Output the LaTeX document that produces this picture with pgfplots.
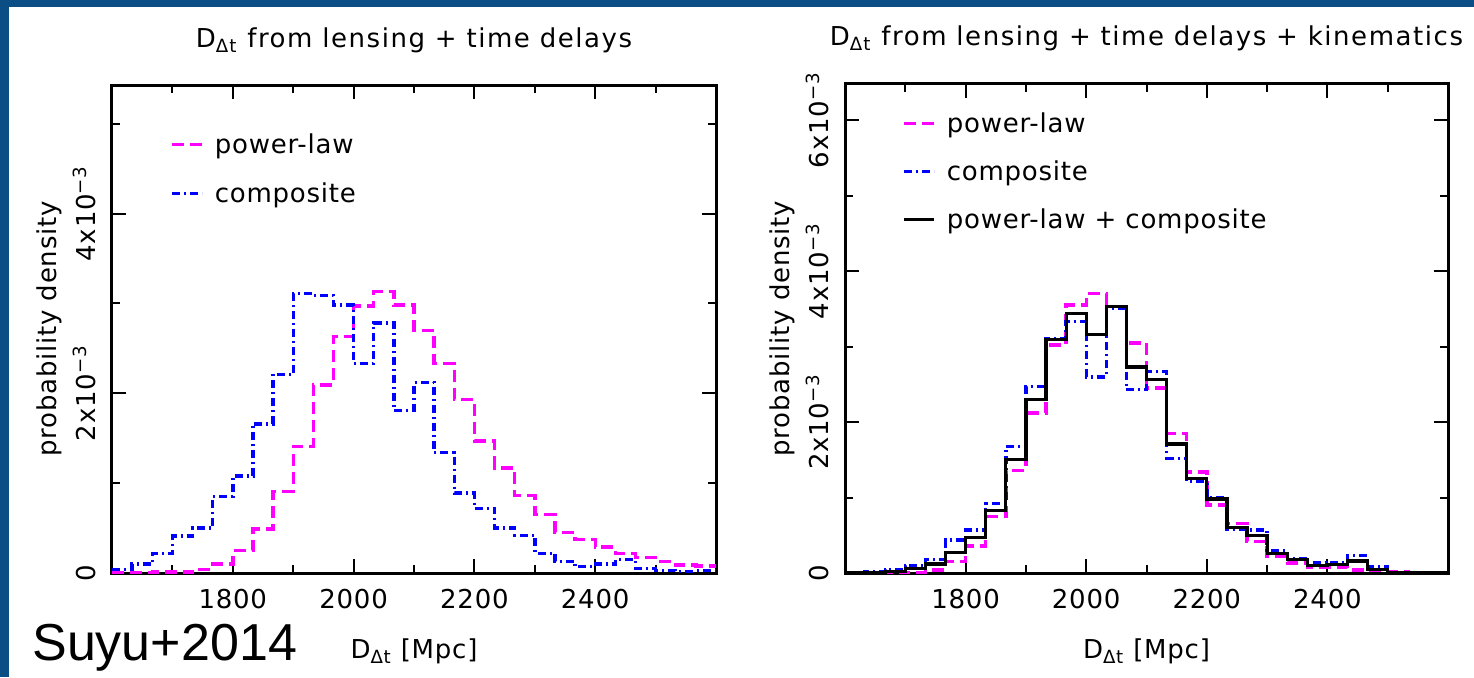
\documentclass[border=0pt]{standalone}
\usepackage{pgfplots}
\usepackage{pgfplotstable}
\pgfplotsset{compat=1.18}
\usepackage{fontspec}
\setmainfont{DejaVu Sans}[LetterSpace=3]
\newfontfamily\titlefont{DejaVu Sans}[LetterSpace=6]
\newfontfamily\suyufont{Liberation Sans}
\definecolor{slideblue}{RGB}{11,78,133}
\definecolor{pmag}{RGB}{255,0,255}
\definecolor{pblue}{RGB}{0,0,255}

% bin left edges (bin width 33.33 Mpc); values in units of 10^-3
\pgfplotstableread{
x        plL   compL  plR   compR  bothR
1600     0.00  0.04   0.00  0.00   0.00
1633.33  0.00  0.10   0.00  0.02   0.00
1666.67  0.01  0.22   0.00  0.05   0.02
1700     0.01  0.41   0.01  0.10   0.06
1733.33  0.04  0.50   0.04  0.18   0.12
1766.67  0.10  0.85   0.15  0.44   0.27
1800     0.25  1.08   0.36  0.57   0.47
1833.33  0.49  1.66   0.75  0.92   0.83
1866.67  0.91  2.21   1.36  1.68   1.50
1900     1.41  3.11   2.12  2.47   2.30
1933.33  2.09  3.09   3.02  3.11   3.09
1966.67  2.63  2.98   3.55  3.33   3.44
2000     2.97  2.33   3.70  2.60   3.16
2033.33  3.13  2.78   3.53  3.51   3.53
2066.67  2.98  1.81   3.05  2.43   2.73
2100     2.70  2.12   2.45  2.67   2.56
2133.33  2.33  1.34   1.85  1.52   1.71
2166.67  1.93  0.89   1.34  1.21   1.25
2200     1.47  0.72   0.90  1.00   0.98
2233.33  1.17  0.50   0.66  0.58   0.60
2266.67  0.86  0.42   0.42  0.57   0.50
2300     0.65  0.22   0.22  0.30   0.26
2333.33  0.45  0.13   0.13  0.19   0.18
2366.67  0.37  0.07   0.08  0.13   0.10
2400     0.29  0.10   0.08  0.14   0.11
2433.33  0.22  0.15   0.04  0.23   0.16
2466.67  0.17  0.05   0.03  0.08   0.05
2500     0.13  0.03   0.02  0.00   0.00
2533.33  0.09  0.02   0.00  0.00   0.00
2566.67  0.08  0.03   0.00  0.00   0.00
2600     0.08  0.03   0.00  0.00   0.00
}\hist

\newcommand{\plotfont}{\fontsize{13}{15}\selectfont}

\pgfplotsset{
  suyu/.style={
    scale only axis,
    xmin=1600, xmax=2600, ymin=0,
    axis line style={line width=1.5pt},
    tick style={line width=1pt, black},
    major tick length=7pt, minor tick length=4pt,
    xtick={1800,2000,2200,2400},
    xticklabels={1800,2000,2200,2400},
    minor xtick={1700,1900,2100,2300,2500},
    minor ytick={1,3,5},
    tick label style={font=\plotfont},
    xticklabel style={anchor=base, yshift=-17.5pt},
    yticklabel style={xshift=-8.5pt, rotate=90, anchor=base},
    every axis x label/.style={at={(axis description cs:0.5,0)}, yshift=-42.5pt, anchor=base, font=\plotfont},
    every axis y label/.style={at={(axis description cs:0,0.5)}, xshift=-28pt, rotate=90, anchor=base, font=\plotfont},
    every axis title/.style={at={(axis description cs:0.5,1)}, yshift=19pt, anchor=base, font=\titlefont\plotfont},
    xlabel={D\textsubscript{Δt} [Mpc]},
    ylabel={probability density},
    legend image code/.code={\draw[##1] (0pt,4.5pt) -- (15pt,4.5pt);},
    legend style={draw=none, fill=none, at={(axis description cs:0,1)}, anchor=north west,
      inner sep=0pt, column sep=5.5pt,
      nodes={inner sep=0pt, text height=10pt, text depth=4pt, anchor=base west, font=\plotfont}},
  },
  plmag/.style={const plot, color=pmag, line width=1.7pt, dash pattern=on 6pt off 3pt},
  plblue/.style={const plot, color=pblue, line width=1.7pt, dash pattern=on 4pt off 2pt on 1pt off 2pt},
  plblack/.style={const plot, color=black, line width=1.6pt},
}

\begin{document}
\begin{tikzpicture}
\useasboundingbox (0,0) rectangle (737pt,338.5pt);
\fill[white] (0,0) rectangle (737pt,338.5pt);
\fill[slideblue] (0,0) rectangle (4.5pt,338.5pt);
\fill[slideblue] (0,335pt) rectangle (737pt,338.5pt);

\begin{axis}[suyu,
  at={(56pt,52pt)}, anchor=south west,
  width=302pt, height=244pt,
  ymax=5.43,
  ytick={0,2,4},
  yticklabels={0,2x10\textsuperscript{−3},4x10\textsuperscript{−3}},
  title={D\textsubscript{Δt} from lensing + time delays},
  legend style={xshift=29pt, yshift=-24pt, row sep=10.5pt},
]
\addplot[plmag] table[x=x, y=plL] {\hist};
\addlegendentry{power-law}
\addplot[plblue] table[x=x, y=compL] {\hist};
\addlegendentry{composite}
\end{axis}

\begin{axis}[suyu,
  at={(422.5pt,52pt)}, anchor=south west,
  width=301.5pt, height=244.5pt,
  ymax=6.48,
  ytick={0,2,4,6},
  yticklabels={0,2x10\textsuperscript{−3},4x10\textsuperscript{−3},6x10\textsuperscript{−3}},
  title={D\textsubscript{Δt} from lensing + time delays + kinematics},
  legend style={xshift=28.5pt, yshift=-14pt, row sep=10pt},
]
\addplot[plmag] table[x=x, y=plR] {\hist};
\addlegendentry{power-law}
\addplot[plblue] table[x=x, y=compR] {\hist};
\addlegendentry{composite}
\addplot[plblack] table[x=x, y=bothR] {\hist};
\addlegendentry{power-law + composite}
\end{axis}

\node[anchor=base west, inner sep=0pt, font=\suyufont\fontsize{26}{30}\selectfont] at (16pt,8.5pt) {Suyu+2014};
\end{tikzpicture}
\end{document}
